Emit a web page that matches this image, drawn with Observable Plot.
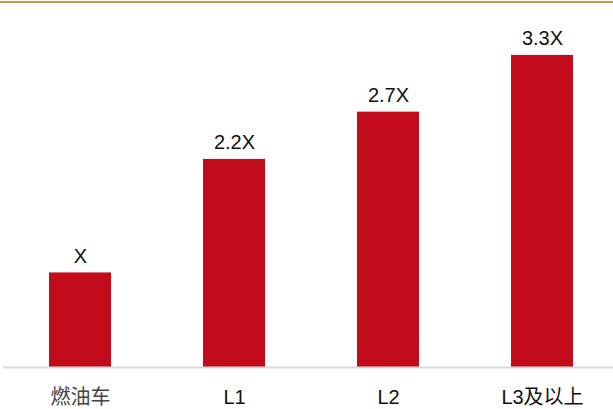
<!DOCTYPE html>
<html>
<head>
<meta charset="utf-8">
<script src="https://cdn.jsdelivr.net/npm/d3@7"></script>
<script src="https://cdn.jsdelivr.net/npm/@observablehq/plot@0.6"></script>
<style>
  html, body { margin: 0; padding: 0; background: #fff; }
  #wrap { position: relative; width: 613px; height: 409px; }
  #topline { position: absolute; left: 0; top: 1px; width: 613px; height: 2px; background: #c0954a; }
</style>
</head>
<body>
<div id="wrap"><div id="topline"></div></div>
<script>
const categories = ["燃油车", "L1", "L2", "L3及以上"];
const values = [1, 2.2, 2.7, 3.3];
const labels = ["X", "2.2X", "2.7X", "3.3X"];

const data = categories.map((c, i) => ({cat: c, value: values[i], label: labels[i]}));

const chart = Plot.plot({
  width: 613,
  height: 409,
  marginTop: 36,
  marginBottom: 42,
  marginLeft: 3,
  marginRight: 0,
  style: {fontFamily: "'Liberation Sans', Arial, 'Noto Sans CJK SC', sans-serif", background: "transparent"},
  x: {domain: categories, range: [2.5, 618.5], paddingInner: 0.6, paddingOuter: 0.3, label: null},
  y: {domain: [0, 3.5], axis: null},
  marks: [
    Plot.barY(data, {x: "cat", y: "value", fill: "#c20c1b"}),
    Plot.ruleY([0], {stroke: "#d9d9d9", strokeWidth: 2}),
    Plot.text(data, {x: "cat", y: "value", text: "label", lineAnchor: "bottom", dy: -10, fontSize: 20, fill: "#111"}),
    Plot.axisX({tickSize: 0, tickPadding: 22, fontSize: 20,
      fill: d => (d === "燃油车" ? "#444444" : "#111111"),
      tickFormat: d => d})
  ]
});
document.getElementById("wrap").appendChild(chart);
chart.style.position = "absolute";
chart.style.left = "0";
chart.style.top = "0";
</script>
</body>
</html>
